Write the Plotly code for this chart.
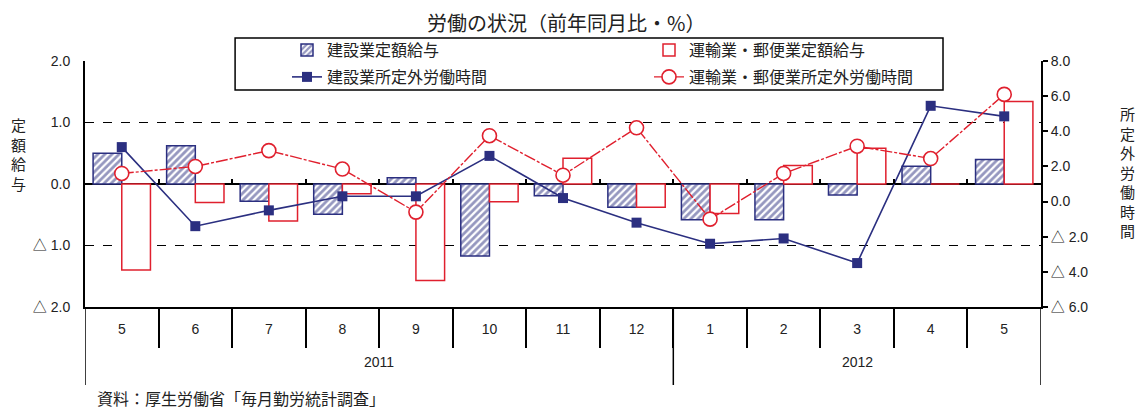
import plotly.graph_objects as go

years = ["2011", "2012"]
year_months = [["5", "6", "7", "8", "9", "10", "11", "12"], ["1", "2", "3", "4", "5"]]
months = year_months[0] + year_months[1]

const_wage = [0.5, 0.62, -0.28, -0.49, 0.1, -1.17, -0.19, -0.38, -0.58, -0.58, -0.18, 0.29, 0.4]
trans_wage = [-1.4, -0.3, -0.6, -0.16, -1.57, -0.29, 0.42, -0.38, -0.48, 0.3, 0.58, 0.0, 1.34]
const_hours = [3.1, -1.4, -0.5, 0.3, 0.3, 2.6, 0.2, -1.2, -2.4, -2.1, -3.5, 5.45, 4.85]
trans_hours = [1.6, 2.0, 2.9, 1.85, -0.6, 3.75, 1.5, 4.2, -1.0, 1.6, 3.15, 2.45, 6.1]

left_ticks = [-2, -1, 0, 1, 2]
left_text = ["△ 2.0", "△ 1.0", "0.0", "1.0", "2.0"]
right_ticks = [-6, -4, -2, 0, 2, 4, 6, 8]
right_text = ["△ 6.0", "△ 4.0", "△ 2.0", "0.0", "2.0", "4.0", "6.0", "8.0"]

NAVY = "#2B2F80"
RED = "#E0202E"
JP = "Noto Sans CJK JP"
NUM = "Liberation Sans, Noto Sans CJK JP"

xpos = list(range(len(months)))
boundaries = [i + 0.5 for i in range(len(months) - 1)]
xr = [-0.5, len(months) - 0.5]

group_edges = [-0.5]
for g in year_months:
    group_edges.append(group_edges[-1] + len(g))
group_centres = [(group_edges[i] + group_edges[i + 1]) / 2 for i in range(len(years))]

fig = go.Figure()
fig.add_trace(go.Bar(
    x=xpos, y=const_wage, name="建設業定額給与",
    offset=-0.39, width=0.39, legend="legend",
    marker=dict(color="white", line=dict(color=NAVY, width=1.5),
                pattern=dict(shape="/", fgcolor=NAVY, bgcolor="white", size=5, solidity=0.55)),
))
fig.add_trace(go.Bar(
    x=xpos, y=trans_wage, name="運輸業・郵便業定額給与",
    offset=0.0, width=0.39, legend="legend",
    marker=dict(color="white", line=dict(color=RED, width=1.5)),
))
fig.add_trace(go.Scatter(
    x=xpos, y=const_hours, name="建設業所定外労働時間", yaxis="y2", legend="legend2",
    mode="lines+markers", line=dict(color=NAVY, width=1.6),
    marker=dict(symbol="square", size=10, color=NAVY),
))
fig.add_trace(go.Scatter(
    x=xpos, y=trans_hours, name="運輸業・郵便業所定外労働時間", yaxis="y2", legend="legend2",
    mode="lines+markers", line=dict(color=RED, width=1.4, dash="12px,2px,3px,2px"),
    marker=dict(symbol="circle", size=14, color="white", line=dict(color=RED, width=1.6)),
))
fig.add_trace(go.Scatter(x=[], y=[], xaxis="x2", yaxis="y", showlegend=False, hoverinfo="skip"))
fig.add_trace(go.Scatter(x=[], y=[], xaxis="x3", yaxis="y", showlegend=False, hoverinfo="skip"))

shapes = [dict(type="rect", xref="paper", yref="paper", x0=0.157, x1=0.8975, y0=0.882, y1=1.0935,
               line=dict(color="black", width=1.5), fillcolor="white", layer="above")]
for e in group_edges:
    shapes.append(dict(type="line", xref="x", yref="paper", x0=e, x1=e, y0=0, y1=-0.317,
                       line=dict(color="black", width=1.5)))

annotations = [
    dict(text="労働の状況（前年同月比・%）", xref="paper", yref="paper", x=0.503, y=1.1585,
         showarrow=False, font=dict(family=JP, size=20, color="#222"), xanchor="center", yanchor="middle"),
    dict(text="定<br>額<br>給<br>与", xref="paper", yref="paper", x=-0.070, y=0.622,
         showarrow=False, font=dict(family=JP, size=15, color="#222"), xanchor="center", yanchor="middle"),
    dict(text="所<br>定<br>外<br>労<br>働<br>時<br>間", xref="paper", yref="paper", x=1.091, y=0.549,
         showarrow=False, font=dict(family=JP, size=15, color="#222"), xanchor="center", yanchor="middle"),
    dict(text="資料：厚生労働省「毎月勤労統計調査」", xref="paper", yref="paper", x=0.0105, y=-0.37,
         showarrow=False, font=dict(family=JP, size=16, color="#222"), xanchor="left", yanchor="middle"),
]
for yname, c in zip(years, group_centres):
    annotations.append(dict(text=yname, xref="x", yref="paper", x=c, y=-0.224, showarrow=False,
                            font=dict(family=NUM, size=14, color="#222"), xanchor="center", yanchor="middle"))

# page body has an 8px margin, so the figure is 8px smaller each way
fig.update_layout(
    width=1137, height=402,
    margin=dict(l=77, r=104, t=53, b=103, autoexpand=False),
    paper_bgcolor="white", plot_bgcolor="white",
    barmode="overlay",
    showlegend=True,
    font=dict(family=JP, size=14, color="#222"),
    xaxis=dict(
        range=xr, tickmode="array", tickvals=xpos, ticktext=months,
        showline=True, linecolor="black", linewidth=2,
        ticks="", ticklabelstandoff=8,
        tickfont=dict(family=NUM, size=14, color="#222"),
        showgrid=False, zeroline=False,
    ),
    xaxis2=dict(
        overlaying="x", anchor="free", position=0.5, range=xr,
        tickmode="array", tickvals=boundaries, ticks="inside", ticklen=5, tickwidth=1.5, tickcolor="black",
        showticklabels=False, showline=False, showgrid=False, zeroline=False,
    ),
    xaxis3=dict(
        overlaying="x", anchor="y", side="bottom", range=xr,
        tickmode="array", tickvals=boundaries, ticks="outside", ticklen=40, tickwidth=1.5, tickcolor="black",
        showticklabels=False, showline=False, showgrid=False, zeroline=False,
    ),
    yaxis=dict(
        range=[-2, 2], tickmode="array", tickvals=left_ticks, ticktext=left_text,
        showline=True, linecolor="black", linewidth=2,
        showgrid=True, gridcolor="black", gridwidth=1.2, griddash="dash",
        zeroline=True, zerolinecolor="black", zerolinewidth=2,
        ticks="", ticklabelstandoff=10,
        tickfont=dict(family=NUM, size=14, color="#222"),
    ),
    yaxis2=dict(
        overlaying="y", side="right", range=[-6, 8], tickmode="array",
        tickvals=right_ticks, ticktext=right_text,
        showline=True, linecolor="black", linewidth=2,
        showgrid=False, zeroline=False,
        ticks="outside", ticklen=5, tickwidth=1.5, tickcolor="black",
        tickfont=dict(family=NUM, size=14, color="#222"),
    ),
    legend=dict(
        orientation="h", x=0.2113, y=1.0447, xanchor="left", yanchor="middle",
        bgcolor="rgba(0,0,0,0)", borderwidth=0, entrywidth=317,
        font=dict(family=JP, size=16, color="#222"), traceorder="normal",
    ),
    legend2=dict(
        orientation="h", x=0.2113, y=0.935, xanchor="left", yanchor="middle",
        bgcolor="rgba(0,0,0,0)", borderwidth=0, entrywidth=317,
        font=dict(family=JP, size=16, color="#222"), traceorder="normal",
    ),
    shapes=shapes,
    annotations=annotations,
)

fig.write_html("out.html")
